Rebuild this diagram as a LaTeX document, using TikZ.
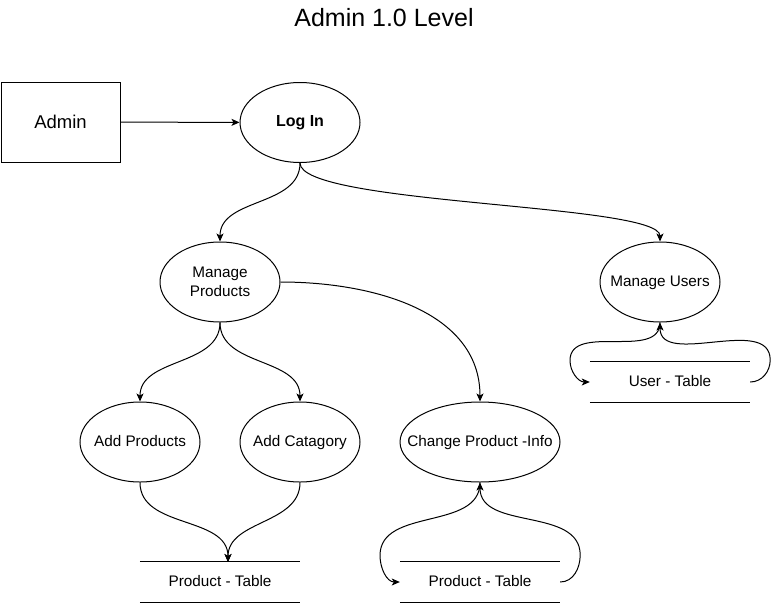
\documentclass[tikz,border=0pt]{standalone}
\usepackage{fontspec}
\setmainfont{Liberation Sans}
\usetikzlibrary{shapes.geometric,arrows.meta}
\definecolor{ink}{HTML}{000000}
\definecolor{paper}{HTML}{FFFFFF}
\tikzset{
  proc/.style={ellipse, draw=ink, fill=paper, line width=1pt, minimum width=120pt, minimum height=80pt, inner xsep=-20pt, inner ysep=0pt, align=center, font=\fontsize{15.3}{19}\selectfont},
  proc1/.style={proc, text height=0.85em, text depth=0pt},
  ent/.style={rectangle, draw=ink, line width=1pt, minimum width=119pt, minimum height=80pt, font=\fontsize{18.5}{22}\selectfont},
  store/.style={minimum width=160pt, minimum height=40pt, inner sep=0pt, text height=0.85em, text depth=0pt, font=\fontsize{15.3}{19}\selectfont},
  bar/.style={draw=ink, line width=1pt},
  flow/.style={draw=ink, line width=1pt, -{Stealth[length=8pt,width=7pt,inset=2pt]}},
}

\begin{document}
\begin{tikzpicture}[x=1pt,y=1pt]
  \useasboundingbox (0,0) rectangle (771,-603);
  \node[font=\fontsize{25}{30}\selectfont] (title) at (384,-18) {Admin 1.0 Level};
  \node[ent] (admin) at (60.5,-122) {Admin};
  \node[proc1,font=\fontsize{16}{19}\selectfont\bfseries] (login) at (300,-122.5) {Log In};
  \node[proc] (mp) at (220,-282) {Manage\\Products};
  \node[proc1] (mu) at (660,-282) {Manage Users};
  \node[proc1] (ap) at (140,-442) {Add Products};
  \node[proc1] (ac) at (300,-442) {Add Catagory};
  \node[proc1,minimum width=160pt] (cpi) at (480,-442) {Change Product -Info};
  \node[store] (pt1) at (220,-582) {Product - Table};
  \node[store] (pt2) at (480,-582) {Product - Table};
  \node[store] (ut) at (670,-382) {User - Table};
  \foreach \t in {pt1,pt2,ut}{
    \draw[bar] (\t.north west) -- (\t.north east);
    \draw[bar] (\t.south west) -- (\t.south east);
  }
  \coordinate (pt1in) at (228,-562);
  \draw[flow] (admin) -- (login);
  \draw[flow] (login.south) to[out=-90,in=90] (mp.north);
  \draw[flow] (login.south) .. controls +(0,-42) and +(0,38) .. (mu.north);
  \draw[flow] (mp.east) to[out=0,in=90] (cpi.north);
  \draw[flow] (mp.south) to[out=-90,in=90] (ap.north);
  \draw[flow] (mp.south) to[out=-90,in=90] (ac.north);
  \draw[flow] (ap.south) to[out=-90,in=90] (pt1in);
  \draw[flow] (ac.south) to[out=-90,in=90] (pt1in);
  \draw[flow] (cpi.south) to[out=-90,in=90] ++(-100,-73) to[out=-90,in=180] (pt2.west);
  \draw[flow] (pt2.east) to[out=0,in=-90] ++(20,27) to[out=90,in=-90] (cpi.south);
  \draw[flow] (mu.south) to[out=-90,in=90] ++(-90,-38) to[out=-90,in=180] (ut.west);
  \draw[flow] (ut.east) to[out=0,in=-90] ++(20,22) to[out=90,in=-90] (mu.south);
\end{tikzpicture}
\end{document}
